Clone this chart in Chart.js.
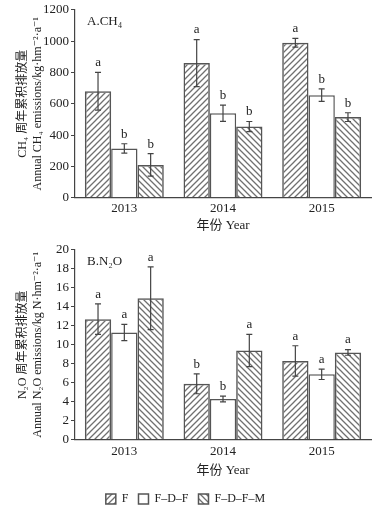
<!DOCTYPE html>
<html>
<head>
<meta charset="utf-8">
<script src="https://cdn.jsdelivr.net/npm/chart.js@4.4.1/dist/chart.umd.min.js"></script>
<style>
  html, body { margin: 0; background: #fff; overflow: hidden; width: 372px; height: 509px; }
  canvas { position: absolute; left: 0; }
</style>
</head>
<body>
<canvas id="ch4Chart" width="372" height="240" style="top:0"></canvas>
<canvas id="n2oChart" width="372" height="275" style="top:240px"></canvas>
<script>
const years = ['2013', '2014', '2015'];
const treatments = ['F', 'F–D–F', 'F–D–F–M'];

// CH4 (kg/hm2/a)
const ch4F = [680, 860, 990];
const ch4FDF = [315, 540, 655];
const ch4FDFM = [210, 455, 515];
const ch4ErrF = [120, 150, 28];
const ch4ErrFDF = [30, 52, 40];
const ch4ErrFDFM = [72, 32, 28];
const ch4LetF = ['a', 'a', 'a'];
const ch4LetFDF = ['b', 'b', 'b'];
const ch4LetFDFM = ['b', 'b', 'b'];
const ch4Ticks = [0, 200, 400, 600, 800, 1000, 1200];

// N2O (kg N/hm2/a)
const n2oF = [12.7, 5.9, 8.3];
const n2oFDF = [11.3, 4.3, 6.9];
const n2oFDFM = [14.9, 9.4, 9.2];
const n2oErrF = [1.6, 1.05, 1.6];
const n2oErrFDF = [0.85, 0.3, 0.55];
const n2oErrFDFM = [3.3, 1.7, 0.3];
const n2oLetF = ['a', 'b', 'a'];
const n2oLetFDF = ['a', 'b', 'a'];
const n2oLetFDFM = ['a', 'a', 'a'];
const n2oTicks = [0, 2, 4, 6, 8, 10, 12, 14, 16, 18, 20];

const serif = '"Liberation Serif", "DejaVu Serif", "Noto Sans CJK SC", serif';

function hatch(ctx, up) {
    const c = document.createElement('canvas');
    c.width = 6; c.height = 6;
    const g = c.getContext('2d');
    g.strokeStyle = '#707070';
    g.lineWidth = 1.3;
    g.beginPath();
    if (up) {
        g.moveTo(0, 6); g.lineTo(6, 0);
        g.moveTo(-1, 1); g.lineTo(1, -1);
        g.moveTo(5, 7); g.lineTo(7, 5);
    } else {
        g.moveTo(0, 0); g.lineTo(6, 6);
        g.moveTo(5, -1); g.lineTo(7, 1);
        g.moveTo(-1, 5); g.lineTo(1, 7);
    }
    g.stroke();
    return ctx.createPattern(c, 'repeat');
}

// error bars, significance letters and panel label
const extras = {
    id: 'extras',
    afterDatasetsDraw(chart) {
        const ctx = chart.ctx;
        const y = chart.scales.y;
        ctx.save();
        ctx.strokeStyle = '#444';
        ctx.fillStyle = '#222';
        ctx.lineWidth = 1.2;
        ctx.font = '13px ' + serif;
        ctx.textAlign = 'center';
        ctx.textBaseline = 'bottom';
        chart.data.datasets.forEach((ds, i) => {
            chart.getDatasetMeta(i).data.forEach((bar, j) => {
                const v = ds.data[j], e = ds.err[j];
                const yt = y.getPixelForValue(v + e);
                const yb = y.getPixelForValue(v - e);
                ctx.beginPath();
                ctx.moveTo(bar.x, yt); ctx.lineTo(bar.x, yb);
                ctx.moveTo(bar.x - 3, yt); ctx.lineTo(bar.x + 3, yt);
                ctx.moveTo(bar.x - 3, yb); ctx.lineTo(bar.x + 3, yb);
                ctx.stroke();
                ctx.fillText(ds.letters[j], bar.x, yt - 3);
            });
        });
        ctx.textAlign = 'left';
        ctx.textBaseline = 'middle';
        ctx.fillText(chart.options.panel, chart.chartArea.left + 12, chart.chartArea.top + 12);
        ctx.restore();
    }
};

function makeChart(id, series, errs, lets, ticks, maxY, yTitle, lay) {
    const ctx = document.getElementById(id).getContext('2d');
    const fills = [hatch(ctx, true), '#ffffff', hatch(ctx, false)];
    return new Chart(ctx, {
        type: 'bar',
        data: {
            labels: years,
            datasets: treatments.map((t, i) => ({
                label: t,
                data: series[i],
                err: errs[i],
                letters: lets[i],
                backgroundColor: fills[i],
                borderColor: '#555',
                borderWidth: 1.5,
                barPercentage: 1,
                categoryPercentage: 0.8
            }))
        },
        options: {
            responsive: false,
            animation: false,
            panel: '',
            layout: { padding: { top: 2, right: 1, left: 0, bottom: lay.bottom } },
            plugins: {
                legend: {
                    display: lay.legend,
                    position: 'bottom',
                    labels: {
                        boxWidth: 10,
                        boxHeight: 10,
                        padding: 10,
                        color: '#222',
                        font: { family: serif, size: 12 }
                    }
                },
                tooltip: { enabled: false }
            },
            scales: {
                x: {
                    grid: { display: false, drawTicks: false },
                    border: { color: '#444', width: 1.2 },
                    ticks: { color: '#222', font: { family: serif, size: 13 }, padding: lay.tickPad },
                    title: {
                        display: true,
                        text: '年份 Year',
                        color: '#222',
                        font: { family: serif, size: 13 },
                        padding: { top: lay.titleTop, bottom: lay.titleBottom }
                    }
                },
                y: {
                    min: 0,
                    max: maxY,
                    afterBuildTicks: s => { s.ticks = ticks.map(v => ({ value: v })); },
                    afterFit: s => { s.width = 75; },
                    grid: { drawOnChartArea: false, tickLength: 4, color: '#444' },
                    border: { color: '#444', width: 1.2 },
                    ticks: {
                        autoSkip: false,
                        color: '#222',
                        font: { family: serif, size: 13 },
                        padding: 2,
                        callback: v => String(v)
                    },
                    title: {
                        display: true,
                        text: yTitle,
                        color: '#222',
                        font: { family: serif, size: 12 },
                        padding: { top: 16, bottom: 0 }
                    }
                }
            }
        },
        plugins: [extras]
    });
}

const c1 = makeChart('ch4Chart',
    [ch4F, ch4FDF, ch4FDFM], [ch4ErrF, ch4ErrFDF, ch4ErrFDFM], [ch4LetF, ch4LetFDF, ch4LetFDFM],
    ch4Ticks, 1200,
    ['CH₄ 周年累积排放量', 'Annual CH₄ emissions/kg·hm⁻²·a⁻¹'],
    { legend: false, bottom: 7, tickPad: 3, titleTop: -2, titleBottom: 0 });
c1.options.panel = 'A.CH₄';
c1.update();

const c2 = makeChart('n2oChart',
    [n2oF, n2oFDF, n2oFDFM], [n2oErrF, n2oErrFDF, n2oErrFDFM], [n2oLetF, n2oLetFDF, n2oLetFDFM],
    n2oTicks, 20,
    ['N₂O 周年累积排放量', 'Annual N₂O emissions/kg N·hm⁻²·a⁻¹'],
    { legend: true, bottom: 0, tickPad: 4, titleTop: -1, titleBottom: 5 });
c2.options.panel = 'B.N₂O';
c2.update();
</script>
</body>
</html>
